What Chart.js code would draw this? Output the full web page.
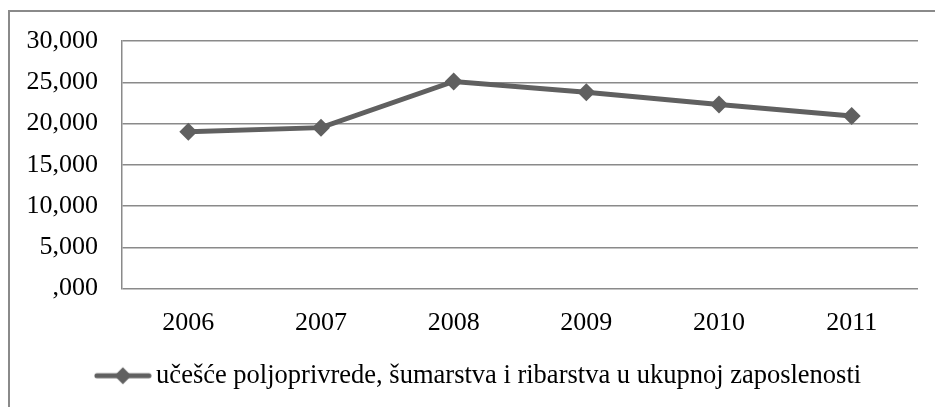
<!DOCTYPE html>
<html>
<head>
<meta charset="utf-8">
<script src="https://cdn.jsdelivr.net/npm/chart.js@4"></script>
<style>
  html, body { margin: 0; padding: 0; background: #fff; }
  #wrap { position: relative; width: 935px; height: 407px; overflow: hidden; }
  #frame { position: absolute; left: 8px; top: 10px; width: 1000px; height: 500px;
           border-left: 2px solid #8a8a8a; border-top: 2px solid #8a8a8a; }
  canvas { position: absolute; left: 0; top: 0; }
</style>
</head>
<body>
<div id="wrap">
  <div id="frame"></div>
  <canvas id="grafico" width="935" height="407"></canvas>
</div>
<script>
// dados
const godine = ['2006', '2007', '2008', '2009', '2010', '2011'];
const ucesce = [19.0, 19.5, 25.1, 23.8, 22.3, 20.9];
const nazivSerije = 'učešće poljoprivrede, šumarstva i ribarstva u ukupnoj zaposlenosti';

const boja = '#606060';
const bojaMreze = '#8a8a8a';
const font = { family: 'Liberation Serif', size: 26 };
const fontLegende = { family: 'Liberation Serif', size: 26.5 };

// simbol za legendu: linija sa rombom
function simbolLegende() {
    const c = document.createElement('canvas');
    c.width = 58;
    c.height = 20;
    const ctx = c.getContext('2d');
    ctx.strokeStyle = boja;
    ctx.lineWidth = 5;
    ctx.lineCap = 'round';
    ctx.beginPath();
    ctx.moveTo(3, 10);
    ctx.lineTo(55, 10);
    ctx.stroke();
    ctx.fillStyle = boja;
    ctx.beginPath();
    ctx.moveTo(29, 1.5);
    ctx.lineTo(37.5, 10);
    ctx.lineTo(29, 18.5);
    ctx.lineTo(20.5, 10);
    ctx.closePath();
    ctx.fill();
    return c;
}

// legenda je u originalu malo pomaknuta udesno
const pomakLegende = {
    id: 'pomakLegende',
    afterLayout(chart) {
        if (chart.legend) chart.legend.left += 46;
    }
};

Chart.defaults.font.family = font.family;
Chart.defaults.color = '#000';

new Chart(document.getElementById('grafico'), {
    type: 'line',
    data: {
        labels: godine,
        datasets: [{
            label: nazivSerije,
            data: ucesce,
            borderColor: boja,
            backgroundColor: boja,
            borderWidth: 5,
            pointStyle: 'rectRot',
            pointRadius: 9,
            pointBorderWidth: 0,
            tension: 0
        }]
    },
    plugins: [pomakLegende],
    options: {
        responsive: false,
        animation: false,
        layout: { padding: { left: 0, right: 17, top: 41, bottom: 8 } },
        plugins: {
            tooltip: { enabled: false },
            legend: {
                position: 'bottom',
                labels: {
                    usePointStyle: true,
                    pointStyle: simbolLegende(),
                    pointStyleWidth: 40,
                    padding: 10,
                    font: fontLegende,
                    color: '#000'
                }
            }
        },
        scales: {
            x: {
                offset: true,
                grid: { display: false, drawTicks: false },
                border: { display: false },
                ticks: { font: font, padding: 19, color: '#000' },
                afterFit: s => { s.height = 64; }
            },
            y: {
                min: 0,
                max: 30,
                grid: { color: bojaMreze, lineWidth: 1.5, drawTicks: false },
                border: { display: true, color: bojaMreze, width: 1.5 },
                ticks: {
                    stepSize: 5,
                    padding: 24,
                    font: font,
                    color: '#000',
                    callback: v => {
                        const t = v.toFixed(3).replace('.', ',');
                        return t.startsWith('0') ? t.slice(1) : t;
                    }
                },
                afterFit: s => { s.width = 122; }
            }
        }
    }
});
</script>
</body>
</html>
